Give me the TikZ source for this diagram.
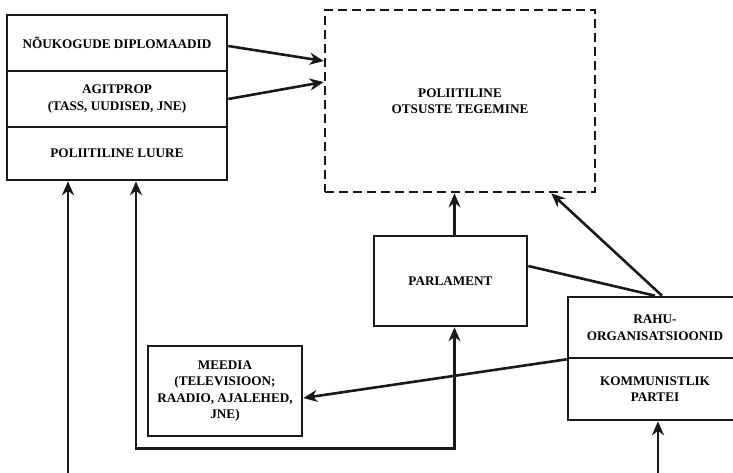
\documentclass[tikz,border=0pt]{standalone}
\usepackage{fontspec}
\setmainfont{Liberation Serif}
\usetikzlibrary{arrows.meta,calc}
\begin{document}
\begin{tikzpicture}[x=1pt,y=-1pt,
  box/.style={draw=black!90,line width=2.6pt,inner sep=0pt,align=center,
    font=\bfseries\fontsize{13.2}{16.5}\selectfont,text=black},
  dbox/.style={box,dash pattern=on 9pt off 5pt},
  arr/.style={line width=2.6pt,draw=black!90,-{Stealth[length=14pt,width=12pt,inset=4.5pt]}},
  ln/.style={line width=2.6pt,draw=black!90}]
\useasboundingbox (0,0) rectangle (733,472);
\node[box,minimum width=220pt,minimum height=56pt] (nou) at (117,43) {NÕUKOGUDE DIPLOMAADID};
\node[box,minimum width=220pt,minimum height=56pt] (agit) at (117,99) {AGITPROP\\(TASS, UUDISED, JNE)};
\node[box,minimum width=220pt,minimum height=53pt] (luure) at (117,153.5) {POLIITILINE LUURE};
\node[dbox,minimum width=270pt,minimum height=182pt] (pol) at (460,101) {POLIITILINE\\OTSUSTE TEGEMINE};
\node[box,minimum width=153pt,minimum height=90pt] (parl) at (450.5,281) {PARLAMENT};
\node[box,minimum width=174pt,minimum height=61pt] (rahu) at (655,327.5) {RAHU-\\ORGANISATSIOONID};
\node[box,minimum width=174pt,minimum height=62pt] (komm) at (655,389) {KOMMUNISTLIK\\PARTEI};
\node[box,minimum width=154pt,minimum height=90pt] (meedia) at (225,391) {MEEDIA\\(TELEVISIOON;\\RAADIO, AJALEHED,\\JNE)};
\draw[arr] ($(nou.east)+(0,3)$) -- ($(pol.west)+(0,-40)$);
\draw[arr] (agit.east) -- ($(pol.west)+(0,-19)$);
\draw[arr] ($(parl.north)+(4,0)$) -- ($(parl.north |- pol.south)+(4,0)$);
\draw[arr] ($(rahu.north)+(7,0)$) -- ($(pol.south east)+(-45,0)$);
\draw[ln] ($(parl.east)+(0,-15)$) -- (rahu.north);
\draw[arr] (rahu.south west) -- ($(meedia.east)+(0,7)$);
\draw[arr,{Stealth[length=14pt,width=12pt,inset=4.5pt]}-{Stealth[length=14pt,width=12pt,inset=4.5pt]}]
  ($(luure.south)+(19,0)$) |- ($(parl.south)+(4,121)$) -- ($(parl.south)+(4,0)$);
\draw[arr] ($(luure.south)+(-49,300)$) -- ($(luure.south)+(-49,0)$);
\draw[arr] ($(komm.south)+(3,60)$) -- ($(komm.south)+(3,0)$);
\end{tikzpicture}
\end{document}
